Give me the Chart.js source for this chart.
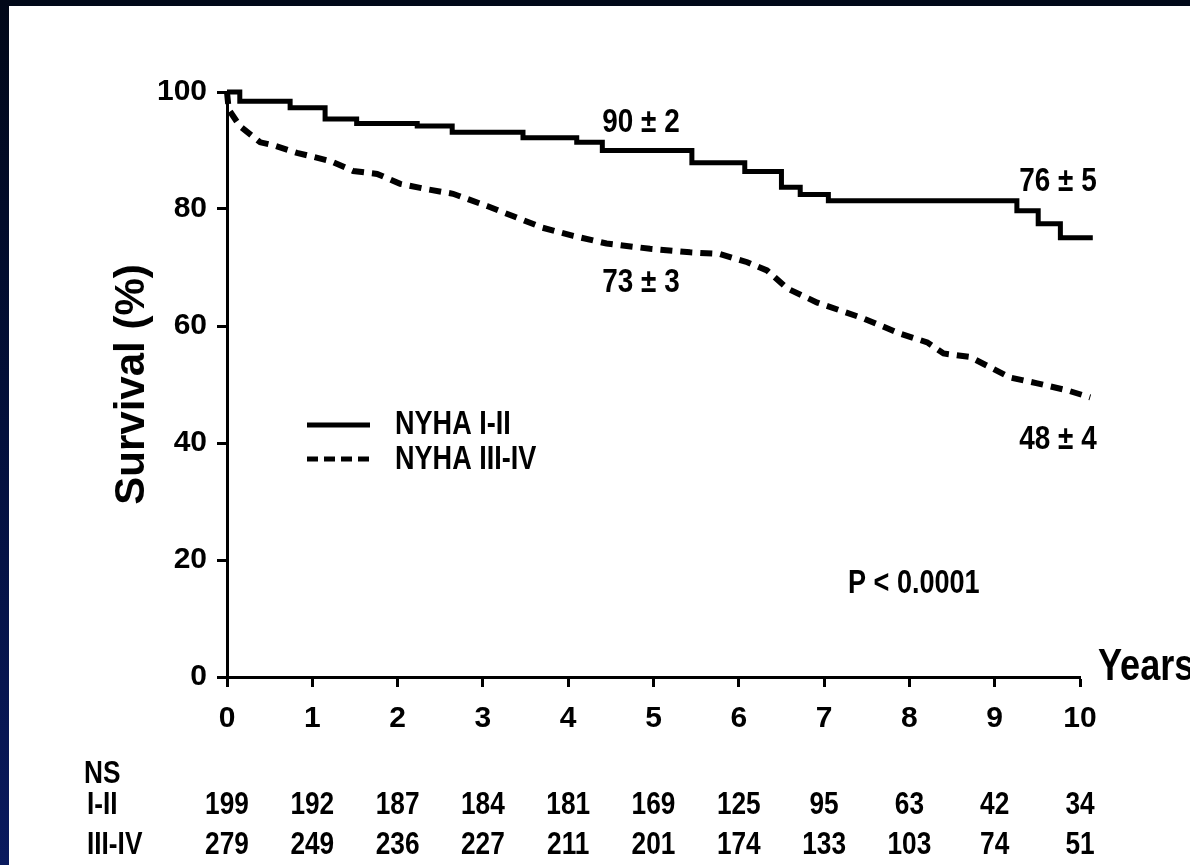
<!DOCTYPE html>
<html>
<head>
<meta charset="utf-8">
<script src="https://cdn.jsdelivr.net/npm/chart.js@4.4.1/dist/chart.umd.min.js"></script>
<style>
  html, body { margin: 0; padding: 0; }
  body {
    width: 1190px; height: 865px; position: relative; overflow: hidden;
    background: linear-gradient(to bottom, #010818 0%, #03103c 50%, #0a1a5e 100%);
  }
  #sheet { position: absolute; left: 9px; top: 6px; right: 0; bottom: 0; background: #fff; }
  #wrap { position: absolute; left: 0; top: 0; width: 1190px; height: 865px; }
</style>
</head>
<body>
<div id="sheet"></div>
<div id="wrap"><canvas id="km" width="1190" height="865"></canvas></div>
<script>
// Kaplan-Meier survival
const years = [0, 1, 2, 3, 4, 5, 6, 7, 8, 9, 10];

// NYHA I-II: step curve (time of drop, survival after drop)
const nyha12Time = [0, 0.15, 0.74, 1.15, 1.52, 2.23, 2.64, 3.47, 4.10, 4.40, 5.45, 6.07, 6.50, 6.72, 7.05, 9.26, 9.51, 9.77, 10.15];
const nyha12Surv = [100, 98.4, 97.3, 95.4, 94.6, 94.2, 93.1, 92.2, 91.4, 90.0, 87.9, 86.4, 83.7, 82.5, 81.4, 79.7, 77.5, 75.1, 75.1];

// NYHA III-IV: dashed curve
const nyha34Time = [0, 0.02, 0.15, 0.39, 0.54, 0.82, 1.21, 1.48, 1.76, 2.03, 2.34, 2.65, 3.05, 3.35, 3.70, 4.06, 4.45, 4.96, 5.43, 5.78, 6.10, 6.33, 6.57, 6.92, 7.46, 7.89, 8.21, 8.40, 8.71, 8.98, 9.18, 9.50, 9.85, 10.12];
const nyha34Surv = [100, 97.0, 94.2, 91.4, 90.9, 89.6, 88.2, 86.5, 86.0, 84.3, 83.4, 82.6, 80.5, 78.8, 76.8, 75.4, 74.1, 73.2, 72.6, 72.3, 70.9, 69.5, 66.4, 64.0, 61.3, 58.7, 57.2, 55.3, 54.7, 52.7, 51.2, 50.2, 49.0, 47.8];

// numbers at risk
const atRisk12 = [199, 192, 187, 184, 181, 169, 125, 95, 63, 42, 34];
const atRisk34 = [279, 249, 236, 227, 211, 201, 174, 133, 103, 74, 51];
const rowLabels = ['NS', 'I-II', 'III-IV'];
const seriesNames = ['NYHA I-II', 'NYHA III-IV'];

const SANS = '"Liberation Sans", Arial, Helvetica, sans-serif';

// scan font is a condensed Helvetica, so squeeze Liberation Sans a bit
function narrowText(ctx, text, x, y, size, align) {
  ctx.save();
  ctx.font = 'bold ' + size + 'px ' + SANS;
  ctx.textAlign = align || 'left';
  ctx.translate(x, y);
  ctx.scale(0.82, 1);
  ctx.fillText(text, 0, 0);
  ctx.restore();
}

const toPoints = (xs, ys) => xs.map((x, i) => ({ x: x, y: ys[i] }));

const extras = {
  id: 'extras',
  afterDraw(chart) {
    const ctx = chart.ctx;
    const x = chart.scales.x;
    ctx.save();
    ctx.fillStyle = '#000';
    ctx.strokeStyle = '#000';
    ctx.textBaseline = 'middle';

    // legend
    ctx.lineWidth = 5;
    ctx.beginPath();
    ctx.moveTo(307, 425);
    ctx.lineTo(370, 425);
    ctx.stroke();
    ctx.setLineDash([11, 6]);
    ctx.beginPath();
    ctx.moveTo(307, 459);
    ctx.lineTo(370, 459);
    ctx.stroke();
    ctx.setLineDash([]);
    narrowText(ctx, seriesNames[0], 395, 425, 33);
    narrowText(ctx, seriesNames[1], 395, 460, 33);

    // estimates
    narrowText(ctx, '90 ± 2', 641, 123, 34, 'center');
    narrowText(ctx, '73 ± 3', 641, 283, 34, 'center');
    narrowText(ctx, '76 ± 5', 1058, 182, 34, 'center');
    narrowText(ctx, '48 ± 4', 1058, 440, 34, 'center');
    narrowText(ctx, 'P < 0.0001', 848, 584, 33);

    // axis name
    narrowText(ctx, 'Years', 1098, 668, 44);

    // numbers at risk
    narrowText(ctx, rowLabels[0], 84, 774, 32);
    narrowText(ctx, rowLabels[1], 87, 805, 32);
    narrowText(ctx, rowLabels[2], 87, 845, 32);
    years.forEach((yr, i) => {
      const px = x.getPixelForValue(yr);
      narrowText(ctx, String(atRisk12[i]), px, 805, 32, 'center');
      narrowText(ctx, String(atRisk34[i]), px, 845, 32, 'center');
    });
    ctx.restore();
  }
};

new Chart(document.getElementById('km'), {
  type: 'line',
  data: {
    datasets: [{
      label: seriesNames[0],
      data: toPoints(nyha12Time, nyha12Surv),
      borderColor: '#000',
      borderWidth: 5,
      stepped: 'before',
      pointRadius: 0,
      fill: false,
      clip: { left: 5, top: 10, right: 20, bottom: 5 }
    }, {
      label: seriesNames[1],
      data: toPoints(nyha34Time, nyha34Surv),
      borderColor: '#000',
      borderWidth: 6,
      borderDash: [12, 8],
      tension: 0,
      pointRadius: 0,
      fill: false,
      clip: { left: 5, top: 10, right: 20, bottom: 5 }
    }]
  },
  options: {
    responsive: false,
    animation: false,
    devicePixelRatio: 1,
    layout: { padding: { left: 0, top: 92, right: 110, bottom: 128 } },
    plugins: { legend: { display: false }, tooltip: { enabled: false } },
    scales: {
      x: {
        type: 'linear',
        min: 0,
        max: 10,
        afterFit: (s) => { s.height = 60; },
        border: { display: true, color: '#000', width: 3 },
        grid: { drawOnChartArea: false, drawTicks: true, tickLength: 10, tickWidth: 3, tickColor: '#000' },
        ticks: { stepSize: 1, color: '#000', padding: 14, maxRotation: 0, font: { family: SANS, size: 30, weight: 'bold' } }
      },
      y: {
        min: 0,
        max: 100,
        afterFit: (s) => { s.width = 227; },
        border: { display: true, color: '#000', width: 3 },
        grid: { drawOnChartArea: false, drawTicks: true, tickLength: 10, tickWidth: 3, tickColor: '#000' },
        ticks: { stepSize: 20, color: '#000', padding: 10, font: { family: SANS, size: 30, weight: 'bold' } },
        title: {
          display: true,
          text: 'Survival (%)',
          color: '#000',
          padding: { top: 107, bottom: 0 },
          font: { family: SANS, size: 42, weight: 'bold' }
        }
      }
    }
  },
  plugins: [extras]
});
</script>
</body>
</html>
